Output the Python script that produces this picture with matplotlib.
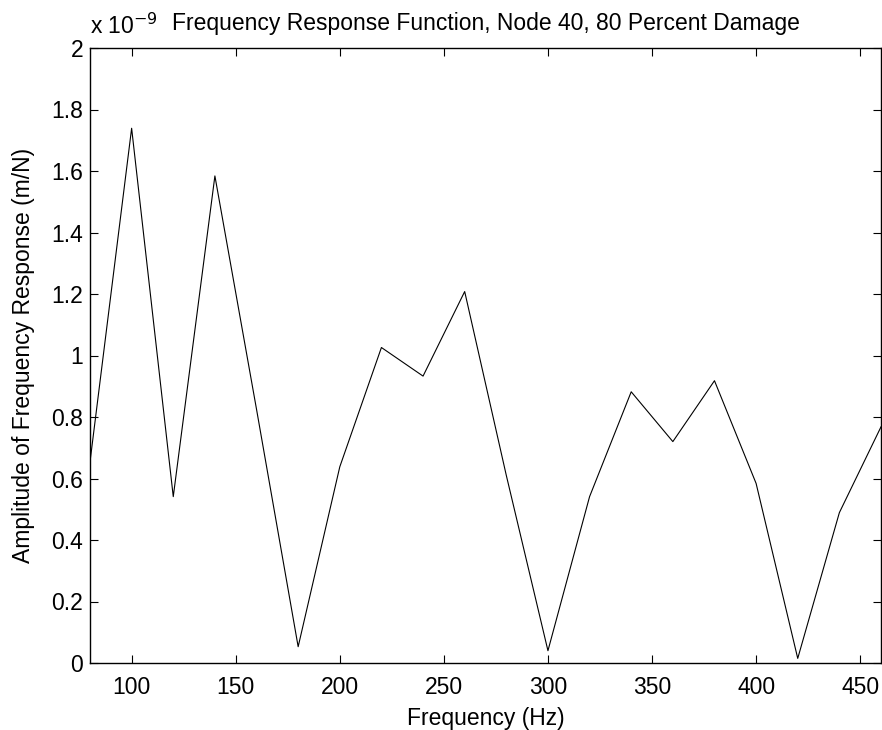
import matplotlib
matplotlib.use("Agg")
import matplotlib.pyplot as plt
from matplotlib.ticker import FuncFormatter

plt.rcParams["font.family"] = ["Liberation Sans", "DejaVu Sans"]

# frequency (Hz) and amplitude (x 1e-9 m/N)
freq = [80, 100, 120, 140, 160, 180, 200, 220, 240, 260, 280,
        300, 320, 340, 360, 380, 400, 420, 440, 460]
amp = [0.654, 1.739, 0.541, 1.584, 0.825, 0.053, 0.638, 1.026, 0.933, 1.208, 0.61,
       0.04, 0.541, 0.882, 0.72, 0.918, 0.584, 0.015, 0.489, 0.768]

xticks = [100, 150, 200, 250, 300, 350, 400, 450]
yticks = [0, 0.2, 0.4, 0.6, 0.8, 1.0, 1.2, 1.4, 1.6, 1.8, 2.0]

fs = 16.5

fig = plt.figure(figsize=(8.82, 7.30), dpi=100)
ax = fig.add_axes([90 / 882, 67 / 730, 791 / 882, 615 / 730])

ax.plot(freq, amp, color="black", linewidth=0.8)

ax.set_xlim(80, 460)
ax.set_ylim(0, 2)
ax.set_xticks(xticks)
ax.set_yticks(yticks)
ax.yaxis.set_major_formatter(FuncFormatter(lambda v, p: "%g" % v))
ax.tick_params(direction="in", length=6, width=0.8, top=True, right=True,
               labelsize=fs)
ax.tick_params(axis="x", pad=9)
ax.tick_params(axis="y", pad=5)
for s in ax.spines.values():
    s.set_linewidth(1.0)

ax.set_xlabel("Frequency (Hz)", fontsize=fs, labelpad=6)
ax.set_ylabel("Amplitude of Frequency Response (m/N)", fontsize=fs, labelpad=12)
ax.set_title("Frequency Response Function, Node 40, 80 Percent Damage",
             fontsize=fs, pad=13)
ax.text(0.0, 1.015, r"x 10$^{-9}$", transform=ax.transAxes, fontsize=fs,
        ha="left", va="bottom")

fig.savefig("out.png", dpi=100)
